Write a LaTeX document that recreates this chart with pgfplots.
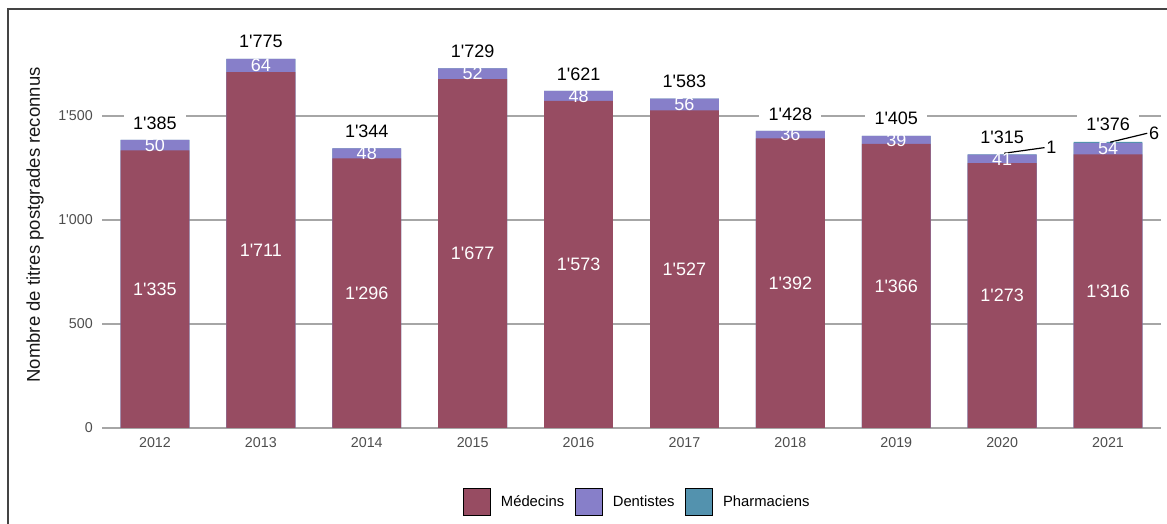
\documentclass[border=0pt]{standalone}
\usepackage{pgfplots}
\pgfplotsset{compat=1.18}
\usepackage{pgfplotstable}
\usepackage{fontspec}
\setmainfont{Liberation Sans}[Ligatures=TeXOff]
\newcommand{\q}{\textquotesingle}
\definecolor{medc}{HTML}{974C62}
\definecolor{denc}{HTML}{877FC9}
\definecolor{phac}{HTML}{5392AE}
\definecolor{gridc}{HTML}{A6A6A6}
\definecolor{tickc}{HTML}{4D4D4D}
\definecolor{framec}{HTML}{444444}
\pgfplotsset{/pgf/number format/.cd, 1000 sep={\q}, assume math mode=true}

\pgfplotstableread{
x med den pha tot
0 1335 50 0 1385
1 1711 64 0 1775
2 1296 48 0 1344
3 1677 52 0 1729
4 1573 48 0 1621
5 1527 56 0 1583
6 1392 36 0 1428
7 1366 39 0 1405
8 1273 41 1 1315
9 1316 54 6 1376
}\data

\begin{document}
\begin{tikzpicture}
\path[use as bounding box] (0,0) rectangle (875.25pt,393pt);
\draw[framec, line width=1.1pt] (6pt,0) -- (6pt,386.25pt) -- (875.25pt,386.25pt);
\begin{axis}[
  at={(76.5pt,72pt)}, anchor=south west, scale only axis,
  width=794.25pt, height=296.4pt,
  xmin=-0.5, xmax=9.5, ymin=0, ymax=1900,
  clip=false,
  axis line style={draw=none},
  major tick length=0pt,
  xtick={0,1,2,3,4,5,6,7,8,9},
  xticklabels={2012,2013,2014,2015,2016,2017,2018,2019,2020,2021},
  ytick={0,500,1000,1500},
  yticklabels={0,500,1\q000,1\q500},
  ymajorgrids, grid style={gridc, line width=1.1pt},
  tick label style={font=\fontsize{10.7}{12}\selectfont, text=tickc},
  yticklabel style={anchor=east, inner sep=0pt, xshift=-6.75pt},
  xticklabel style={anchor=north, inner sep=0pt, yshift=-7pt},
  every axis y label/.style={at={(rel axis cs:0,0.514)}, xshift=-50.25pt, rotate=90, anchor=center},
  ylabel={Nombre de titres postgrades reconnus},
  ylabel style={font=\fontsize{13.9}{16}\selectfont, text=black!90},
  legend style={at={(0.507,0)}, anchor=center, yshift=-55.5pt, draw=none, fill=none,
    legend columns=-1, font=\fontsize{11.1}{13}\selectfont, inner sep=0pt,
    nodes={inner xsep=4pt, inner ysep=0pt},
    /tikz/every odd column/.append style={column sep=4pt},
    /tikz/every even column/.append style={column sep=4pt}},
  legend image code/.code={\fill[#1] (0pt,-10pt) rectangle (20pt,10pt);},
]
\addlegendimage{fill=medc}
\addlegendentry{Médecins}
\addlegendimage{fill=denc}
\addlegendentry{Dentistes}
\addlegendimage{fill=phac}
\addlegendentry{Pharmaciens}

\addplot[ybar, bar width=0.65, bar shift=0pt, fill=phac, draw=none, forget plot]
  table[x=x, y expr=\thisrow{med}+\thisrow{den}+\thisrow{pha}] {\data};
\addplot[ybar, bar width=0.65, bar shift=0pt, fill=denc, draw=none, forget plot]
  table[x=x, y expr=\thisrow{med}+\thisrow{den}] {\data};
\addplot[ybar, bar width=0.65, bar shift=0pt, fill=medc, draw=none, forget plot]
  table[x=x, y=med] {\data};

\addplot[draw=none, mark=none, forget plot, nodes near coords, point meta=explicit,
  every node near coord/.append style={anchor=center, text=white, font=\fontsize{13.5}{15}\selectfont}]
  table[x=x, y expr=\thisrow{med}/2, meta=med] {\data};
\addplot[draw=none, mark=none, forget plot, nodes near coords, point meta=explicit,
  every node near coord/.append style={anchor=center, text=white, font=\fontsize{13.5}{15}\selectfont}]
  table[x=x, y expr=\thisrow{med}+\thisrow{den}/2, meta=den] {\data};
\addplot[draw=none, mark=none, forget plot, nodes near coords, point meta=explicit,
  every node near coord/.append style={anchor=center, yshift=12.75pt, text=black, fill=white,
    inner xsep=7pt, inner ysep=2.5pt, font=\fontsize{13.5}{15}\selectfont}]
  table[x=x, y=tot, meta=tot] {\data};

\draw[black, line width=0.9pt] (axis cs:8.02,1321) -- (axis cs:8.40,1348)
  node[anchor=west, inner sep=1pt, font=\fontsize{13.5}{15}\selectfont] {1};
\draw[black, line width=0.9pt] (axis cs:9.02,1374) -- (axis cs:9.37,1417)
  node[anchor=west, inner sep=1pt, font=\fontsize{13.5}{15}\selectfont] {6};
\end{axis}
\end{tikzpicture}
\end{document}
